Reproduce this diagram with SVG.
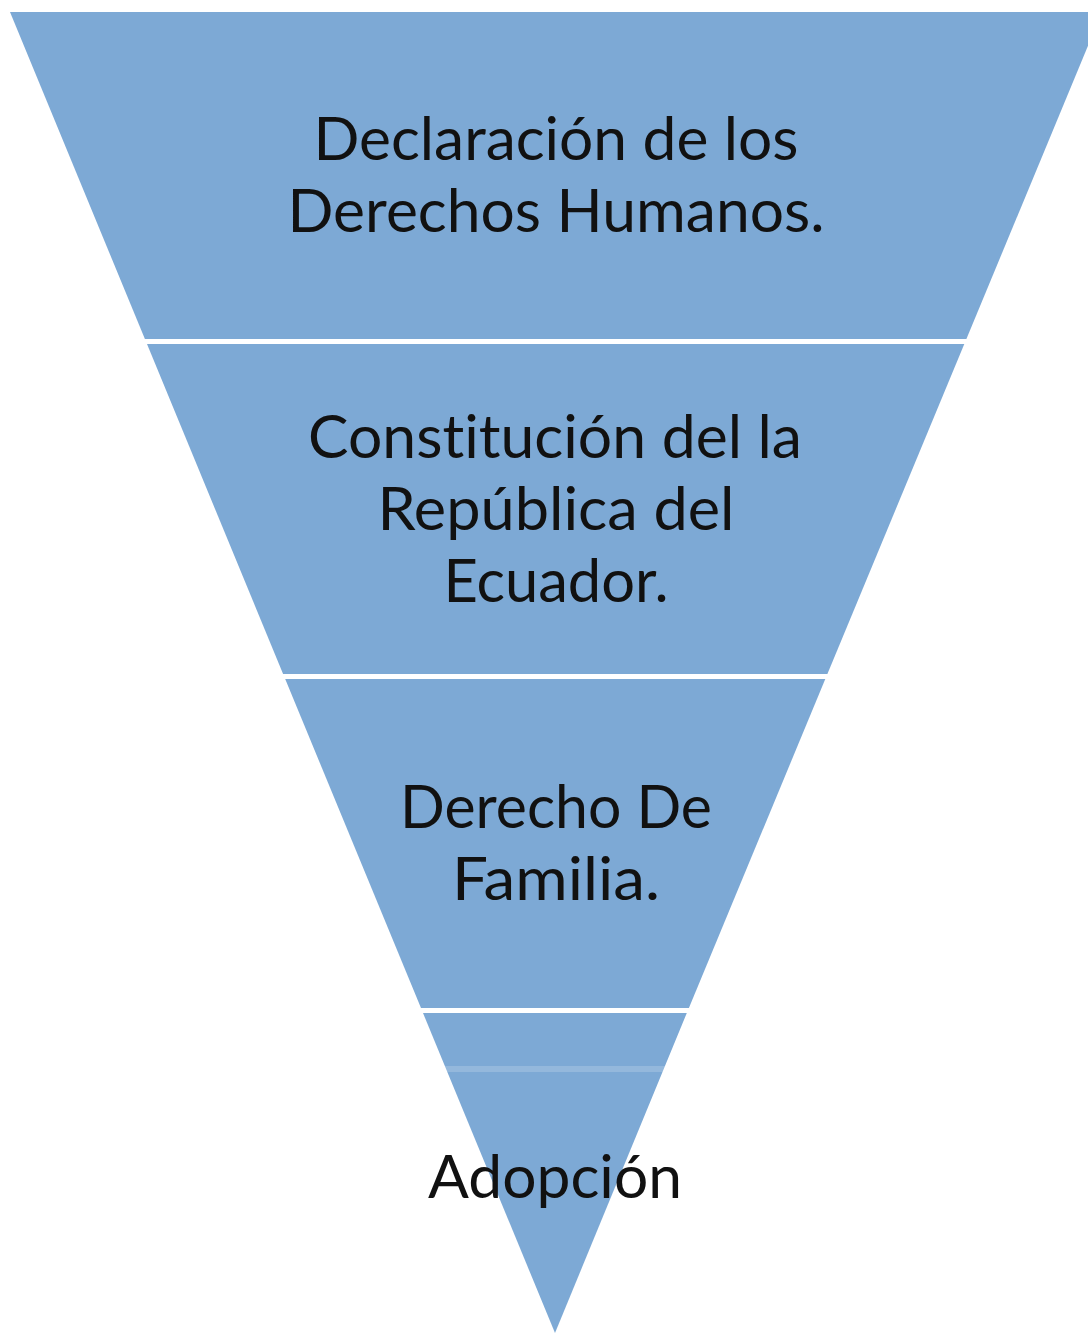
<svg xmlns="http://www.w3.org/2000/svg" width="1088" height="1333" viewBox="0 0 1088 1333">
  <style>
    .band { fill: #7DA9D5; }
    .lbl { font-family: Lato, "Open Sans", "Liberation Sans", sans-serif; font-size: 60px; fill: #111111; text-anchor: middle; font-variant-ligatures: none; font-feature-settings: "liga" 0; }
  </style>
  <rect x="0" y="0" width="1088" height="1333" fill="#ffffff"/>
  <g id="level1">
    <polygon class="band" points="10,12 1102,12 966.4,339 144.9,339"/>
    <text class="lbl" x="556" y="160" textLength="485" lengthAdjust="spacingAndGlyphs">Declaración de los</text>
    <text class="lbl" x="556" y="232" textLength="537" lengthAdjust="spacingAndGlyphs">Derechos Humanos.</text>
  </g>
  <g id="level2">
    <polygon class="band" points="147,344 964.3,344 827.4,674 283.1,674"/>
    <text class="lbl" x="555" y="458" textLength="494" lengthAdjust="spacingAndGlyphs">Constitución del la</text>
    <text class="lbl" x="556" y="530" textLength="357" lengthAdjust="spacingAndGlyphs">República del</text>
    <text class="lbl" x="556" y="602" textLength="225" lengthAdjust="spacingAndGlyphs">Ecuador.</text>
  </g>
  <g id="level3">
    <polygon class="band" points="285.2,679 825.3,679 688.9,1008 421,1008"/>
    <text class="lbl" x="556" y="828" textLength="312" lengthAdjust="spacingAndGlyphs">Derecho De</text>
    <text class="lbl" x="556" y="900" textLength="208" lengthAdjust="spacingAndGlyphs">Familia.</text>
  </g>
  <g id="level4">
    <polygon class="band" points="423,1013 686.8,1013 555,1333"/>
    <line x1="442" y1="1069" x2="665" y2="1069" stroke="#ffffff" stroke-opacity="0.18" stroke-width="6"/>
    <text class="lbl" x="555" y="1198" textLength="254" lengthAdjust="spacingAndGlyphs">Adopción</text>
  </g>
  <g id="connectors"/>
</svg>
